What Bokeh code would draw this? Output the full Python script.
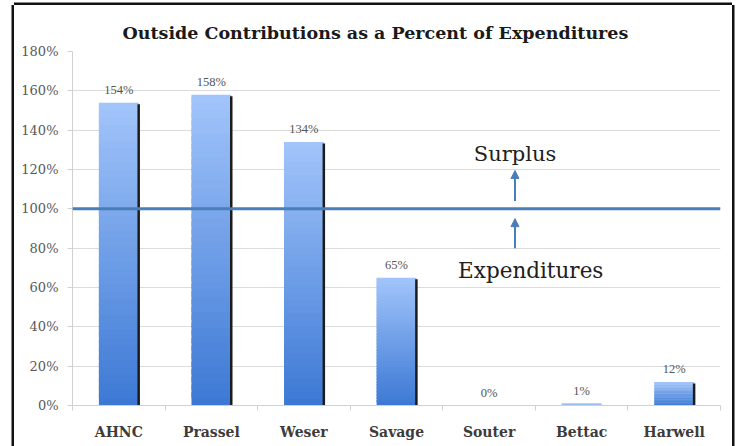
from bokeh.plotting import figure
from bokeh.models import (ColumnDataSource, Range1d, FixedTicker, Span, Arrow, NormalHead,
                          Label, LabelSet)
from bokeh.embed import file_html
from bokeh.resources import INLINE

categories = ["AHNC", "Prassel", "Weser", "Savage", "Souter", "Bettac", "Harwell"]
values = [154, 158, 134, 65, 0, 1, 12]
y_ticks = [0, 20, 40, 60, 80, 100, 120, 140, 160, 180]
title_text = "Outside Contributions as a Percent of Expenditures"

SERIF = "DejaVu Serif"
BAR_W = 0.43
N = 40
top_rgb = (0xA2, 0xC5, 0xFA)
bot_rgb = (0x3C, 0x78, 0xD4)

pos = [i + 0.5 for i in range(len(categories))]

# gradient slices (overlapping slightly to avoid seams)
L, R, B, T, C = [], [], [], [], []
for x, v in zip(pos, values):
    if v <= 0:
        continue
    for k in range(N):
        f = (k + 0.5) / N
        col = tuple(int(round(bot_rgb[j] + (top_rgb[j] - bot_rgb[j]) * f)) for j in range(3))
        L.append(x - BAR_W / 2)
        R.append(x + BAR_W / 2)
        B.append(v * k / N)
        T.append(min(v, v * (k + 1.7) / N))
        C.append("#%02x%02x%02x" % col)
slices = ColumnDataSource(dict(left=L, right=R, bottom=B, top=T, color=C))

p = figure(width=718, height=441, output_backend="svg", toolbar_location=None,
           x_range=Range1d(0, len(categories)), y_range=Range1d(0, 180),
           min_border_left=58, min_border_right=12, min_border_top=46, min_border_bottom=41,
           title=title_text)
p.margin = (5, 0, 0, 14)
p.styles = {"box-shadow": "-2.5px 0 0 0 #111, 2.5px 0 0 0 #111, 0 -2.5px 0 0 #111"}
p.outline_line_color = None
p.background_fill_color = "white"
p.border_fill_color = "white"

p.title.align = "left"
p.title.offset = 50
p.title.text_font = SERIF
p.title.text_font_size = "17.5px"
p.title.text_font_style = "bold"
p.title.text_color = "#1a1a1a"
p.title.standoff = 17

p.quad(left="left", right="right", bottom="bottom", top="top", fill_color="color",
       line_color=None, source=slices)

# shadow line on right edge
sx = [x + BAR_W / 2 for x, v in zip(pos, values) if v > 1]
sv = [v - 0.8 for v in values if v > 1]
p.segment(x0=sx, y0=[0] * len(sx), x1=sx, y1=sv, line_color="#1c1c1c", line_width=2.5)

# data labels
lab_src = ColumnDataSource(dict(x=pos, y=values, t=["%d%%" % v for v in values]))
p.add_layout(LabelSet(x="x", y="y", text="t", source=lab_src, y_offset=6,
                      text_align="center", text_baseline="bottom",
                      text_font=SERIF, text_font_size="12.5px", text_color="#555555"))

# axes
p.yaxis.ticker = FixedTicker(ticks=y_ticks)
p.yaxis.major_label_overrides = {t: "%d%%" % t for t in y_ticks}
p.yaxis.major_label_text_font = SERIF
p.yaxis.major_label_text_font_size = "13px"
p.yaxis.major_label_text_color = "#595959"
p.yaxis.axis_line_color = "#d0d0d0"
p.yaxis.major_tick_line_color = "#d0d0d0"
p.yaxis.major_tick_in = 0
p.yaxis.major_tick_out = 5
p.yaxis.minor_tick_line_color = None
p.yaxis.major_label_standoff = 9

p.xaxis.ticker = FixedTicker(ticks=pos, minor_ticks=list(range(len(categories) + 1)))
p.xaxis.major_label_overrides = {x: c for x, c in zip(pos, categories)}
p.xaxis.major_label_text_font = SERIF
p.xaxis.major_label_text_font_size = "14px"
p.xaxis.major_label_text_font_style = "bold"
p.xaxis.major_label_text_color = "#3c3c3c"
p.xaxis.axis_line_color = "#d0d0d0"
p.xaxis.major_tick_line_color = None
p.xaxis.minor_tick_line_color = "#d0d0d0"
p.xaxis.minor_tick_in = 0
p.xaxis.minor_tick_out = 5
p.xaxis.major_label_standoff = 12

p.xgrid.grid_line_color = None
p.ygrid.grid_line_color = "#dcdcdc"
p.ygrid.ticker = FixedTicker(ticks=y_ticks)

# 100% line
p.add_layout(Span(location=100, dimension="width", line_color="#4a7ebb", line_width=3))

# arrows and annotations
AX = 4.78
blue = "#4a7ebb"
p.add_layout(Arrow(x_start=AX, y_start=104, x_end=AX, y_end=119.5, line_color=blue, line_width=2,
                   end=NormalHead(size=8, fill_color=blue, line_color=blue)))
p.add_layout(Arrow(x_start=AX, y_start=80, x_end=AX, y_end=95, line_color=blue, line_width=2,
                   end=NormalHead(size=8, fill_color=blue, line_color=blue)))
p.add_layout(Label(x=AX, y=128, text="Surplus", text_align="center", text_baseline="middle",
                   text_font=SERIF, text_font_size="21px", text_color="#202020"))
p.add_layout(Label(x=4.95, y=68.5, text="Expenditures", text_align="center", text_baseline="middle",
                   text_font=SERIF, text_font_size="21.5px", text_color="#202020"))

open("out.html", "w").write(file_html(p, INLINE))
